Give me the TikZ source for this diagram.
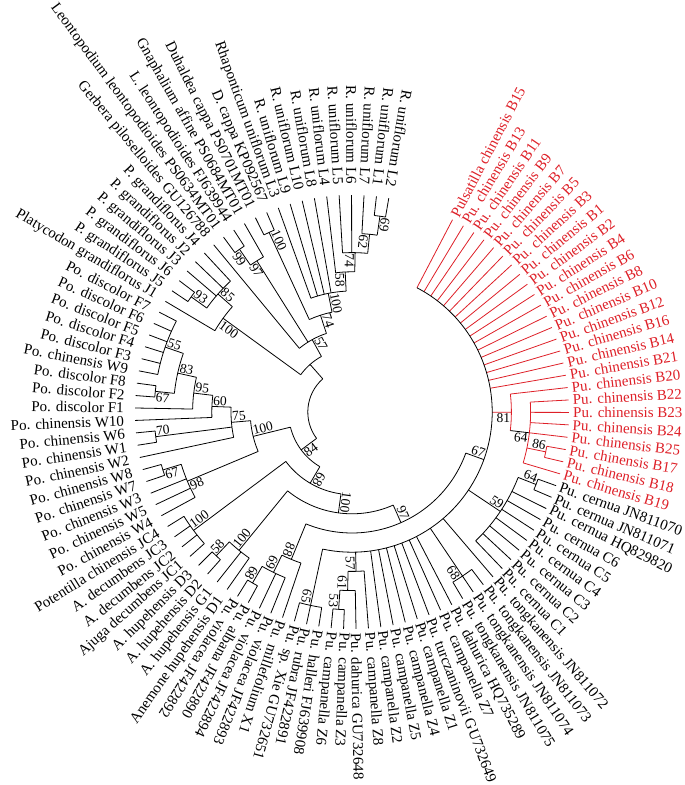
\documentclass[tikz,border=0pt]{standalone}
\usepackage{fontspec}
\setmainfont{Liberation Serif}
\definecolor{pulsared}{RGB}{222,32,40}

\begin{document}
\begin{tikzpicture}[
    branch/.style={line width=0.8pt},
    taxon/.style={inner sep=0pt, font=\fontsize{15}{15}\selectfont},
    boot/.style={inner sep=1pt, font=\fontsize{13.5}{13.5}\selectfont}]
  \useasboundingbox (-352pt,-373pt) rectangle (333pt,412pt);

  % red taxa
  \foreach \k/\h/\t in {1/4/Pulsatilla chinensis B15, 2/4/Pu. chinensis B13,
      3/4/Pu. chinensis B11, 4/4/Pu. chinensis B9, 5/4/Pu. chinensis B7,
      6/4/Pu. chinensis B5, 7/4/Pu. chinensis B3, 8/4/Pu. chinensis B1,
      9/4/Pu. chinensis B2, 10/4/Pu. chinensis B4, 11/4/Pu. chinensis B6,
      12/4/Pu. chinensis B8, 13/4/Pu. chinensis B10, 14/4/Pu. chinensis B12,
      15/4/Pu. chinensis B16, 16/4/Pu. chinensis B14, 17/4/Pu. chinensis B21,
      18/3/Pu. chinensis B20, 19/2/Pu. chinensis B22, 20/2/Pu. chinensis B23,
      21/2/Pu. chinensis B24, 22/2/Pu. chinensis B25, 23/1/Pu. chinensis B17,
      24/1/Pu. chinensis B18, 25/2/Pu. chinensis B19}{
    \pgfmathsetmacro\a{62.4-3.29*(\k-1)}
    \pgfmathsetlengthmacro\rp{217pt-19.2pt*\h}
    \coordinate (b\k) at (\a:\rp);
    \coordinate (e\k) at (\a:217pt);
    \draw[branch, pulsared] (b\k) -- (e\k);
    \node[taxon, text=pulsared, anchor=west, rotate=\a] (t\k) at (\a:221pt) {\t};
  }

  % black taxa
  \foreach \k/\h/\t in {26/1/Pu. cernua JN811070, 27/1/Pu. cernua JN811071,
      28/2/Pu. cernua HQ829820, 29/2/Pu. cernua C6, 30/2/Pu. cernua C5,
      31/2/Pu. cernua C4, 32/2/Pu. cernua C3, 33/2/Pu. cernua C2,
      34/2/Pu. cernua C1, 35/4/Pu. tongkanensis JN811072,
      36/1/Pu. tongkanensis JN811073, 37/1/Pu. tongkanensis JN811074,
      38/1/Pu. tongkanensis JN811075, 39/4/Pu. dahurica HQ735289,
      40/4/Pu. campanella Z7, 41/4/Pu. turczaninovii GU732649,
      42/4/Pu. campanella Z1, 43/4/Pu. campanella Z4, 44/4/Pu. campanella Z5,
      45/4/Pu. campanella Z2, 46/3/Pu. campanella Z8, 47/2/Pu. dahurica GU732648,
      48/1/Pu. campanella Z3, 49/1/Pu. campanella Z6, 50/1/Pu. halleri FJ639908,
      51/1/Pu. rubra JF422891, 52/1/Pu. sp. Xie GU732651,
      53/3/Pu. millefolium X1, 54/2/Pu. violacea JF422893,
      55/2/Pu. violacea JF422894, 56/1/Pu. albana JF422890,
      57/1/Pu. violacea JF422892, 58/2/Anemone hupehensis D1,
      59/2/A. hupehensis G1, 60/1/A. hupehensis D2, 61/1/A. hupehensis D3,
      62/1/Ajuga decumbens JC1, 63/1/A. decumbens JC2, 64/1/A. decumbens JC3,
      65/1/Potentilla chinensis JC4, 66/2/Po. chinensis W4, 67/2/Po. chinensis W5,
      68/2/Po. chinensis W3, 69/1/Po. chinensis W7, 70/1/Po. chinensis W8,
      71/5/Po. chinensis W2, 72/1/Po. chinensis W1, 73/1/Po. chinensis W6,
      74/4/Po. chinensis W10, 75/3/Po. discolor F1, 76/1/Po. discolor F2,
      77/1/Po. discolor F8, 78/1/Po. chinensis W9, 79/1/Po. discolor F3,
      80/1/Po. discolor F4, 81/1/Po. discolor F5, 82/1/Po. discolor F6,
      83/1/Po. discolor F7, 84/3/Platycodon grandiflorus J1,
      85/1/P. grandiflorus J5, 86/1/P. grandiflorus J6, 87/2/P. grandiflorus J3,
      88/2/P. grandiflorus J2, 89/2/P. grandiflorus J4,
      90/7/Gerbera piloselloides GU126788,
      91/1/Leontopodium leontopodioides PS0634MT01,
      92/1/L. leontopodioides FJ639944, 93/2/Gnaphalium affine PS0684MT01,
      94/1/Duhaldea cappa PS0701MT01, 95/1/D. cappa KP092567,
      96/5/Rhaponticum uniflorum L3, 97/5/R. uniflorum L9, 98/5/R. uniflorum L10,
      99/5/R. uniflorum L8, 100/4/R. uniflorum L4, 101/3/R. uniflorum L5,
      102/3/R. uniflorum L6, 103/2/R. uniflorum L7, 104/1/R. uniflorum L1,
      105/1/R. uniflorum L2}{
    \pgfmathsetmacro\a{62.4-3.29*(\k-1)}
    \pgfmathsetlengthmacro\rp{217pt-19.2pt*\h}
    \coordinate (b\k) at (\a:\rp);
    \coordinate (e\k) at (\a:217pt);
    \draw[branch] (b\k) -- (e\k);
    \ifdim\a pt<-123.5pt
      \pgfmathsetmacro\b{\a+180}
      \node[taxon, anchor=east, rotate=\b] (t\k) at (\a:228pt) {\t};
    \else
      \node[taxon, anchor=west, rotate=\a] (t\k) at (\a:221pt) {\t};
    \fi
  }

  % red clades
  \coordinate (nX-in) at (-0.11:140.2pt);
  \coordinate (nX) at (-0.11:159.4pt);
  \draw[branch, pulsared] (nX-in) -- (nX);
  \draw[branch, pulsared] (6.47:159.4pt) arc[start angle=6.47, end angle=-6.69, radius=159.4pt];
  \node[boot, anchor=north east, rotate=-0.11] (bs-nX) at (nX) {81};
  \coordinate (n64-in) at (-6.69:159.4pt);
  \coordinate (n64) at (-6.69:178.6pt);
  \draw[branch] (n64-in) -- (n64);
  \draw[branch, pulsared] (3.18:178.6pt) arc[start angle=3.18, end angle=-16.56, radius=178.6pt];
  \node[boot, anchor=north east, rotate=-6.69] (bs-n64) at (n64) {64};
  \coordinate (n86-in) at (-11.625:178.6pt);
  \coordinate (n86) at (-11.625:197.8pt);
  \draw[branch, pulsared] (n86-in) -- (n86);
  \draw[branch, pulsared] (-9.98:197.8pt) arc[start angle=-9.98, end angle=-13.27, radius=197.8pt];
  \node[boot, anchor=south east, rotate=-11.625] (bs-n86) at (n86) {86};

  % black clades
  \foreach \n/\a/\hp/\h/\s/\e/\v/\pos in {n67/-19.85/5/4/62.4/-102.1/67/south,
      n64c/-21.495/2/1/-19.85/-23.14/64/south, n59/-33.83/4/2/-21.495/-46.17/59/south,
      n68b/-56.04/4/1/-52.75/-59.33/68/north, n57b/-88.53/4/3/-85.65/-91.41/57/north,
      n61/-91.41/3/2/-88.94/-93.875/61/north, n53/-93.875/2/1/-92.23/-95.52/53/north,
      n65/-102.1/4/1/-98.81/-105.39/65/north, n97/-66.115/6/5/-19.85/-112.38/97/south,
      n88/-112.38/5/3/-108.68/-116.08/88/north, n69v/-116.08/3/2/-111.97/-120.195/69/north,
      n68v/-120.195/2/1/-118.55/-121.84/68/north, n100b/-97.68/7/6/-66.115/-129.24/100/south,
      nAh/-129.24/6/2/-125.13/-133.355/100/south, n58/-133.355/2/1/-131.71/-135/58/south,
      n68/-120.45/8/7/-97.68/-143.225/68/south, nAj/-143.225/7/1/-138.29/-148.16/100/south,
      n84/-143.3/9/8/-120.45/-166.15/84/north, nP/-166.15/8/6/-157.21/-175.095/100/south,
      n98/-157.21/6/2/-151.45/-162.965/98/north, n67w/-162.965/2/1/-161.32/-164.61/67/north,
      n75/-175.095/6/5/-167.9/-182.29/75/south, n70/-172.835/5/1/-171.19/-174.48/70/south,
      n60/-182.29/5/4/-177.77/-186.8175/60/south, n95/-186.8175/4/3/-181.06/-192.575/95/south,
      n83/-192.575/3/2/-185.995/-199.155/83/south, n67f/-185.995/2/1/-184.35/-187.64/67/north,
      n55/-199.155/2/1/-190.93/-207.38/55/south, nPl/-216.015/8/3/-210.67/-221.36/100/north,
      n85/-221.36/3/2/-215.605/-227.12/85/south, n93/-215.605/2/1/-213.96/-217.25/93/south,
      nY/-241.18/8/7/-230.41/-251.95/57/south, n97a/-237.81/7/2/-235.345/-240.28/97/north,
      n99/-235.345/2/1/-233.7/-236.99/99/north, n74b/-251.95/7/6/-245.215/-258.685/74/south,
      n100a/-245.215/6/1/-243.57/-246.86/100/south, n100r/-258.685/6/5/-250.15/-267.22/100/south,
      n58r/-267.22/5/4/-263.31/-271.125/58/north, n74r/-271.125/4/3/-266.6/-275.65/74/north,
      n62/-275.65/3/2/-273.18/-278.115/62/north, n69/-278.115/2/1/-276.47/-279.76/69/south}{
    \pgfmathsetlengthmacro\rp{217pt-19.2pt*\hp}
    \pgfmathsetlengthmacro\rn{217pt-19.2pt*\h}
    \coordinate (\n-in) at (\a:\rp);
    \coordinate (\n) at (\a:\rn);
    \draw[branch] (\n-in) -- (\n);
    \draw[branch] (\s:\rn) arc[start angle=\s, end angle=\e, radius=\rn];
    \ifdim\a pt<-123.5pt
      \pgfmathsetmacro\b{\a+180}
      \node[boot, anchor=\pos\space west, rotate=\b] (bs-\n) at (\n) {\v};
    \else
      \node[boot, anchor=\pos\space east, rotate=\a] (bs-\n) at (\n) {\v};
    \fi
  }

  % root and its second clade
  \coordinate (n57-in) at (-228.6:44.2pt);
  \coordinate (n57) at (-228.6:63.4pt);
  \draw[branch] (n57-in) -- (n57);
  \draw[branch] (-216.015:63.4pt) arc[start angle=-216.015, end angle=-241.18, radius=63.4pt];
  \coordinate (root) at (-185.95:44.2pt);
  \draw[branch] (-143.3:44.2pt) arc[start angle=-143.3, end angle=-228.6, radius=44.2pt];
\end{tikzpicture}
\end{document}
